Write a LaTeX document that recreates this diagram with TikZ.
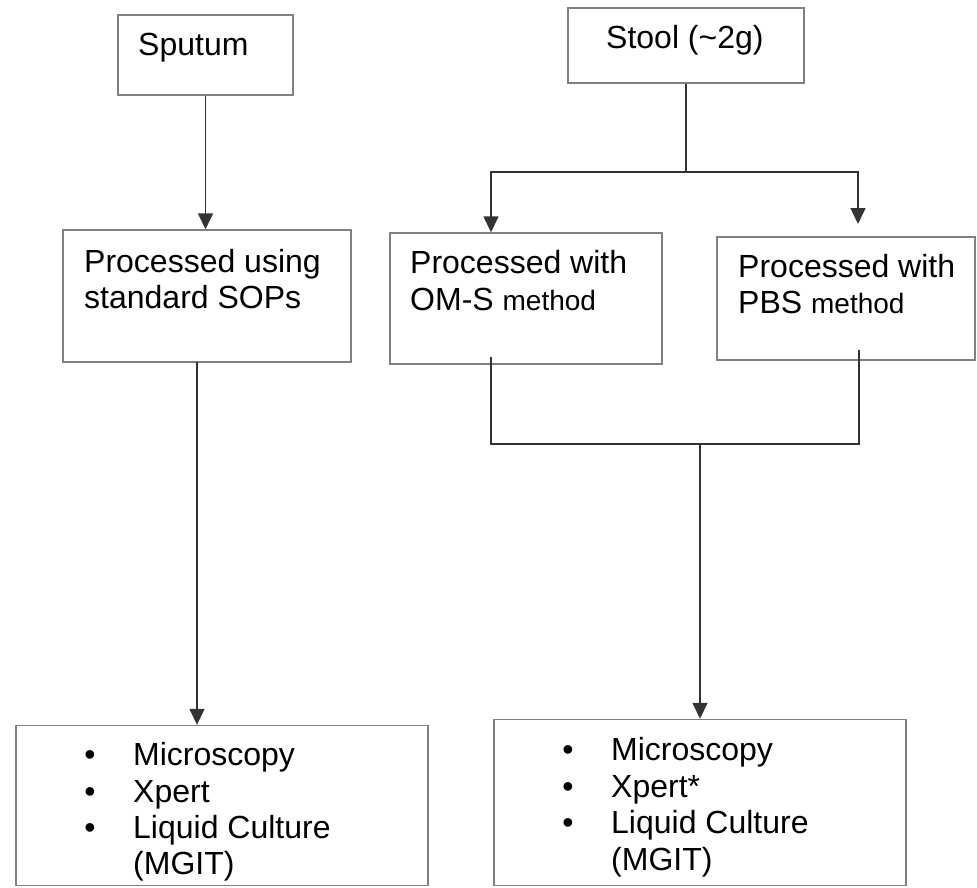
\documentclass[tikz,border=0pt]{standalone}
\usepackage{fontspec}
\setmainfont{Liberation Sans}
\usetikzlibrary{arrows.meta}
\begin{document}
\begin{tikzpicture}[x=1pt,y=-1pt,
  box/.style={draw=black!50,line width=1.4pt,rectangle,inner sep=0pt},
  conn/.style={draw=black!80,line width=1.5pt},
  arr/.style={conn,-{Triangle[length=16pt,width=15pt]}},
  txt/.style={anchor=base west,inner sep=0pt,font=\fontsize{32}{37}\selectfont},
  sm/.style={font=\fontsize{28}{32}\selectfont}]
\useasboundingbox (0,0) rectangle (977,888);
% boxes
\node[box,minimum width=175pt,minimum height=80pt] (sputum) at (205.5,55) {};
\node[box,minimum width=236pt,minimum height=75pt] (stool) at (686,45.5) {};
\node[box,minimum width=288pt,minimum height=132pt] (proc) at (207,296) {};
\node[box,minimum width=272pt,minimum height=131pt] (oms) at (526,298.5) {};
\node[box,minimum width=258pt,minimum height=123pt] (pbs) at (846,298.5) {};
\node[box,minimum width=412pt,minimum height=160pt] (resL) at (222,805.5) {};
\node[box,minimum width=412pt,minimum height=166pt] (resR) at (700,802.5) {};
% texts
\node[txt] (tsput) at (138,56) {Sputum};
\node[txt] (tstool) at (606,49) {Stool (\textasciitilde 2g)};
\node[txt] (tproc1) at (84,272) {Processed using};
\node[txt] (tproc2) at (84,308) {standard SOPs};
\node[txt] (toms1) at (410,273) {Processed with};
\node[txt] (toms2) at (410,310) {OM-S {\fontsize{28}{32}\selectfont method}};
\node[txt] (tpbs1) at (738,277) {Processed with};
\node[txt] (tpbs2) at (738,313) {PBS {\fontsize{28}{32}\selectfont method}};
% left list
\foreach \yy/\tt [count=\i] in {765/Microscopy,802/Xpert,838/Liquid Culture}{
  \node[txt,anchor=base] (bl\i) at (90,\yy) {•};
  \node[txt] (ll\i) at (133,\yy) {\tt};
}
\node[txt] (ll4) at (133,874) {(MGIT)};
% right list
\foreach \yy/\tt [count=\i] in {760/Microscopy,797/Xpert*,833/Liquid Culture}{
  \node[txt,anchor=base] (br\i) at (568,\yy) {•};
  \node[txt] (lr\i) at (611,\yy) {\tt};
}
\node[txt] (lr4) at (611,870) {(MGIT)};
% connectors
\coordinate (sj) at (686,172);
\coordinate (omsin) at (491,357);
\coordinate (pbsin) at (859,350);
\coordinate (mj) at (700,444);
\coordinate (procout) at (197,362);
\draw[arr] (sputum.south) -- (sputum.south |- proc.north);
\draw[conn] (stool.south) -- (sj);
\draw[arr] (sj) -| (omsin |- oms.north);
\draw[arr] (sj) -| (858,224);
\draw[conn] (omsin) -- (omsin |- mj) -- (pbsin |- mj) -- (pbsin);
\draw[arr] (mj) -- (resR.north);
\draw[arr] (procout) -- (procout |- resL.north);
\end{tikzpicture}
\end{document}
